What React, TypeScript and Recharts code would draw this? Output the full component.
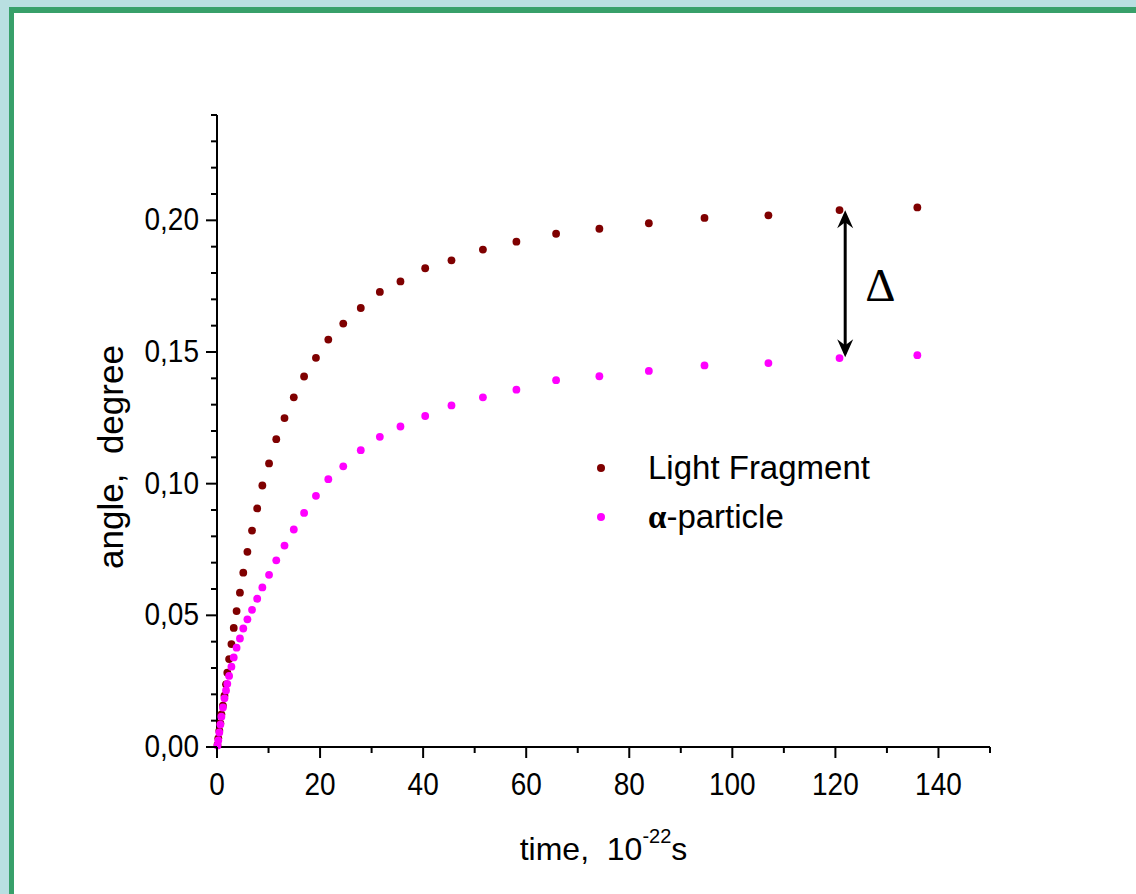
import { Legend, ReferenceLine, Scatter, ScatterChart, XAxis, YAxis } from "recharts";

// time in 10^-22 s, shared by both series
const times = [
  0.1, 0.25, 0.45, 0.65, 0.85, 1.15, 1.45, 1.75, 2.0, 2.35, 2.8, 3.25, 3.8,
  4.45, 5.1, 5.9, 6.8, 7.8, 8.8, 10.1, 11.5, 13.1, 14.9, 16.9, 19.2, 21.6,
  24.5, 27.9, 31.6, 35.6, 40.4, 45.5, 51.6, 58.1, 65.8, 74.2, 83.8, 94.6,
  107.0, 120.8, 135.9
];

const lightFragment = [
  0.0008, 0.0033, 0.0062, 0.009, 0.0124, 0.0157, 0.0195, 0.0238, 0.0282,
  0.0334, 0.0391, 0.0452, 0.0516, 0.0586, 0.0662, 0.0741, 0.0822, 0.0906,
  0.0993, 0.1077, 0.1169, 0.1249, 0.1328, 0.1407, 0.1478, 0.1547, 0.1608,
  0.1667, 0.1728, 0.1768, 0.1818, 0.1848, 0.1889, 0.1919, 0.1949, 0.1968,
  0.1989, 0.2009, 0.2019, 0.2039, 0.2049
];

const alphaParticle = [
  0.0006, 0.0025, 0.0055, 0.0085, 0.0115, 0.015, 0.0185, 0.0215, 0.024,
  0.027, 0.0305, 0.034, 0.0377, 0.0412, 0.045, 0.0485, 0.0521, 0.0563,
  0.0606, 0.0654, 0.0709, 0.0765, 0.0826, 0.0889, 0.0954, 0.1017, 0.1066,
  0.1127, 0.1178, 0.1217, 0.1257, 0.1297, 0.1328, 0.1357, 0.1393, 0.1408,
  0.1428, 0.1449, 0.1458, 0.1477, 0.1488
];

const xTicks = [0, 10, 20, 30, 40, 50, 60, 70, 80, 90, 100, 110, 120, 130, 140, 150];
const yTicks = [
  0, 0.01, 0.02, 0.03, 0.04, 0.05, 0.06, 0.07, 0.08, 0.09, 0.1, 0.11, 0.12,
  0.13, 0.14, 0.15, 0.16, 0.17, 0.18, 0.19, 0.2, 0.21, 0.22, 0.23, 0.24
];

// the delta arrow sits between the two series at t ~ 122
const deltaAt = { t: 121.9, top: 0.2038, bottom: 0.148 };

const FONT = "'Liberation Sans', Arial, Helvetica, sans-serif";

const lfData = times.map((t, i) => ({ t, v: lightFragment[i] }));
const apData = times.map((t, i) => ({ t, v: alphaParticle[i] }));

function isMultiple(v: number, step: number) {
  const r = v / step;
  return Math.abs(r - Math.round(r)) < 1e-6;
}

function XTick({ x, y, payload }: any) {
  const major = isMultiple(payload.value, 20);
  const isLast = payload.value === 150;
  return (
    <g>
      <line x1={x} x2={x} y1={y} y2={y + (major ? 11 : 6)} stroke="#000" strokeWidth={2} />
      {major && !isLast && (
        <text
          x={x}
          y={y + 48}
          textAnchor="middle"
          fontSize={28}
          fontFamily={FONT}
          fill="#000"
          transform={`translate(0 ${y + 48}) scale(1 1.1) translate(0 ${-(y + 48)})`}
        >
          {payload.value}
        </text>
      )}
    </g>
  );
}

function YTick({ x, y, payload }: any) {
  const major = isMultiple(payload.value, 0.05);
  const by = y + 10;
  return (
    <g>
      <line x1={x} x2={x - (major ? 11 : 6)} y1={y} y2={y} stroke="#000" strokeWidth={2} />
      {major && (
        <text
          x={x - 18}
          y={by}
          textAnchor="end"
          fontSize={28}
          fontFamily={FONT}
          fill="#000"
          transform={`translate(0 ${by}) scale(1 1.1) translate(0 ${-by})`}
        >
          {payload.value.toFixed(2).replace(".", ",")}
        </text>
      )}
    </g>
  );
}

function Dot({ cx, cy, fill }: any) {
  return <circle cx={cx} cy={cy} r={3.9} fill={fill} />;
}

function DeltaArrow({ x1, y1, y2 }: any) {
  const top = Math.min(y1, y2);
  const bot = Math.max(y1, y2);
  return (
    <g>
      <line x1={x1} x2={x1} y1={top + 4} y2={bot - 4} stroke="#000" strokeWidth={3} />
      <path d={`M${x1},${top} L${x1 - 8},${top + 18} L${x1},${top + 12} L${x1 + 8},${top + 18} Z`} fill="#000" />
      <path d={`M${x1},${bot} L${x1 - 8},${bot - 18} L${x1},${bot - 12} L${x1 + 8},${bot - 18} Z`} fill="#000" />
      <text
        x={x1 + 20}
        y={(top + bot) / 2 + 17}
        fontSize={47}
        fontFamily="'Liberation Serif', 'Times New Roman', serif"
        fill="#000"
      >
        Δ
      </text>
    </g>
  );
}

function LegendBox({ payload }: any) {
  return (
    <div style={{ fontFamily: FONT, fontSize: 33, color: "#000", lineHeight: "49px" }}>
      {(payload || []).map((entry: any) => (
        <div key={entry.value} style={{ display: "flex", alignItems: "center" }}>
          <span
            style={{
              width: 8,
              height: 8,
              borderRadius: "50%",
              background: entry.color,
              display: "inline-block",
              marginRight: 43
            }}
          />
          {entry.value === "alpha" ? (
            <span>
              <span style={{ fontFamily: "'Liberation Serif', serif", fontWeight: 700 }}>α</span>-particle
            </span>
          ) : (
            <span>{entry.value}</span>
          )}
        </div>
      ))}
    </div>
  );
}

export default function App() {
  return (
    <div style={{ position: "fixed", inset: 0, background: "#B9DFE1", overflow: "hidden" }}>
      <div
        style={{
          position: "absolute",
          left: 9,
          top: 7,
          right: 0,
          bottom: 0,
          background: "#fff",
          borderTop: "6px solid #38A06A",
          borderLeft: "5px solid #38A06A"
        }}
      />
      <div style={{ position: "absolute", left: 0, top: 0 }}>
        <ScatterChart width={1136} height={894} margin={{ top: 115, right: 146, bottom: 87, left: 117 }}>
          <XAxis
            type="number"
            dataKey="t"
            domain={[0, 150]}
            ticks={xTicks}
            interval={0}
            tick={<XTick />}
            tickLine={false}
            tickSize={0}
            tickMargin={0}
            height={60}
            axisLine={{ stroke: "#000", strokeWidth: 2 }}
            label={{
              content: ({ viewBox }: any) => (
                <text
                  x={viewBox.x + viewBox.width / 2}
                  y={viewBox.y + 113}
                  textAnchor="middle"
                  fontSize={32}
                  fontFamily={FONT}
                  fill="#000"
                >
                  <tspan>{"time,\u00a0\u00a010"}</tspan>
                  <tspan dy={-17} fontSize={20}>-22</tspan>
                  <tspan dy={17}>s</tspan>
                </text>
              )
            }}
          />
          <YAxis
            type="number"
            dataKey="v"
            domain={[0, 0.24]}
            ticks={yTicks}
            interval={0}
            tick={<YTick />}
            tickLine={false}
            tickSize={0}
            tickMargin={0}
            width={100}
            axisLine={{ stroke: "#000", strokeWidth: 2 }}
            label={{
              content: () => (
                <text
                  x={123}
                  y={457}
                  transform="rotate(-90 123 457)"
                  textAnchor="middle"
                  fontSize={35}
                  fontFamily={FONT}
                  fill="#000"
                >
                  {"angle,\u00a0\u00a0degree"}
                </text>
              )
            }}
          />
          <Legend
            layout="vertical"
            align="center"
            verticalAlign="middle"
            wrapperStyle={{ left: 597, top: 443, width: 340 }}
            content={<LegendBox />}
          />
          <Scatter
            name="Light Fragment"
            data={lfData}
            fill="#7F0000"
            shape={<Dot />}
            isAnimationActive={false}
          />
          <Scatter
            name="alpha"
            data={apData}
            fill="#FF00FF"
            shape={<Dot />}
            isAnimationActive={false}
          />
          <ReferenceLine
            segment={[
              { x: deltaAt.t, y: deltaAt.top },
              { x: deltaAt.t, y: deltaAt.bottom }
            ]}
            shape={<DeltaArrow />}
          />
        </ScatterChart>
      </div>
    </div>
  );
}
